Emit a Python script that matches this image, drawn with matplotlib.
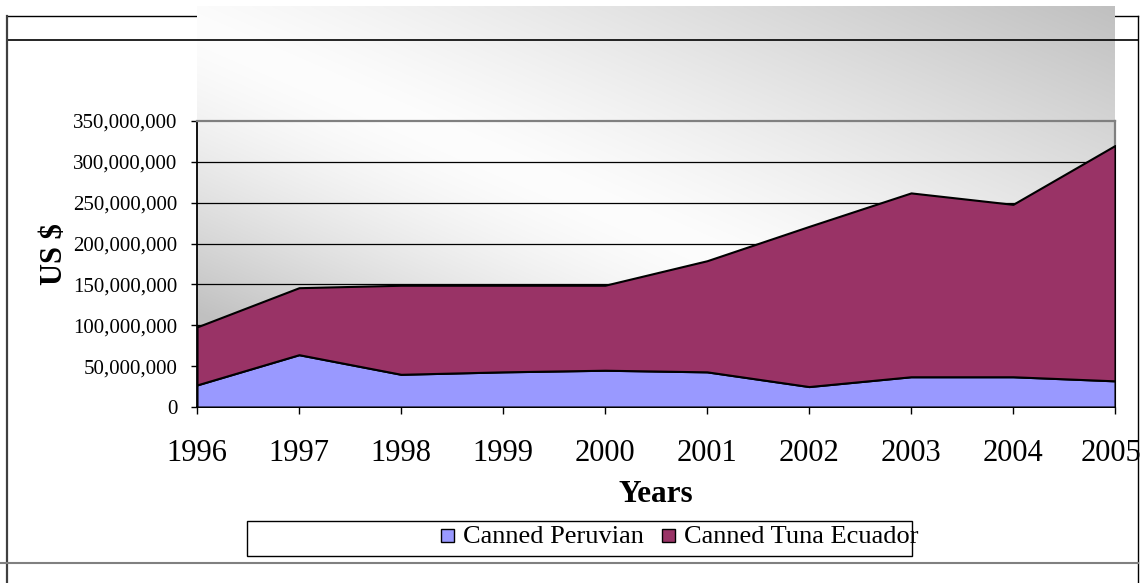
import numpy as np
import matplotlib.pyplot as plt
import matplotlib.transforms as mtransforms
from matplotlib.patches import Rectangle
from matplotlib.ticker import StrMethodFormatter

years = [1996, 1997, 1998, 1999, 2000, 2001, 2002, 2003, 2004, 2005]
peruvian = [27e6, 64e6, 40e6, 43e6, 45e6, 43e6, 25e6, 37e6, 37e6, 32e6]
ecuador = [71e6, 82e6, 109e6, 106e6, 104e6, 136e6, 196e6, 225e6, 211e6, 288e6]
series_names = ['Canned Peruvian', 'Canned Tuna Ecuador']
series_colors = ['#9999ff', '#993366']
y_ticks = np.arange(0, 350e6 + 1, 50e6)

plt.rcParams['font.family'] = ['Liberation Serif', 'DejaVu Serif']

W, H = 1143, 583
fig = plt.figure(figsize=(W / 100, H / 100), dpi=100)

# frame layer in pixel coords
bg = fig.add_axes([0, 0, 1, 1])
bg.set_xlim(0, W)
bg.set_ylim(H, 0)
bg.axis('off')

bg.plot([7, 1138], [16, 16], color='black', lw=1, zorder=1)

# diagonal gradient: grey at top-right and bottom-left, near white through the middle
gx, gy = np.meshgrid(np.linspace(0, 1, 460), np.linspace(0, 1, 200))
t = gx - gy
t0 = -0.05
upper = np.clip((t - t0) / (1 - t0), 0, 1) ** 1.2
lower = np.clip((t0 - t) / 0.72, 0, 1) ** 1.5
frac = np.where(t >= t0, upper, lower)
shade = (253 - 61 * frac) / 255.0
grad = np.dstack([shade, shade, shade])
bg.imshow(grad, extent=(197, 1115, 407, 6), aspect='auto', zorder=2, interpolation='bilinear')

bg.plot([7, 1138], [40, 40], color='black', lw=1.2, zorder=3)
bg.plot([7, 7], [16, H], color='#404040', lw=1.6, zorder=3)
bg.plot([1138, 1138], [16, H], color='black', lw=1, zorder=3)
bg.plot([0, 1138], [563, 563], color='#808080', lw=1.5, zorder=3)

# legend box drawn by hand
bg.add_patch(Rectangle((247, 521), 665, 35, facecolor='white', edgecolor='black', lw=1, zorder=3))
leg_x = [441, 662]
for x0, name, col in zip(leg_x, series_names, series_colors):
    bg.add_patch(Rectangle((x0, 529), 13, 13, facecolor=col, edgecolor='black', lw=1, zorder=4))
    bg.text(x0 + 22, 537, name, fontsize=19, va='center', ha='left', zorder=4)

# main chart
ax = fig.add_axes([197 / W, (H - 407) / H, 918 / W, 286 / H])
ax.patch.set_visible(False)
ax.stackplot(years, peruvian, ecuador, colors=series_colors,
             edgecolor='black', linewidth=1.5, zorder=3)
ax.set_xlim(1996, 2005)
ax.set_ylim(0, 350e6)
ax.set_yticks(y_ticks)
ax.set_xticks(years)
ax.yaxis.set_major_formatter(StrMethodFormatter('{x:,.0f}'))
for yv in y_ticks[1:-1]:
    ax.axhline(yv, color='black', lw=0.9, zorder=1)

for side in ['left', 'bottom']:
    ax.spines[side].set_color('black')
    ax.spines[side].set_linewidth(1.3)
for side in ['top', 'right']:
    ax.spines[side].set_color('#808080')
    ax.spines[side].set_linewidth(1.6)

ax.tick_params(axis='y', direction='out', length=4, width=1, pad=10, labelsize=15)
ax.tick_params(axis='x', direction='out', length=5, width=1, pad=18, labelsize=22)

# nudge the last year label left so it stays inside the frame
last = ax.get_xticklabels()[-1]
last.set_transform(last.get_transform() + mtransforms.ScaledTranslation(-4 / 100, 0, fig.dpi_scale_trans))

ax.set_xlabel('Years', fontsize=22.5, fontweight='bold', labelpad=9)
fig.text(55 / W, 1 - 254 / H, 'US $', rotation=90, fontsize=22, fontweight='bold',
         ha='center', va='center')

fig.savefig('out.png', dpi=100)
